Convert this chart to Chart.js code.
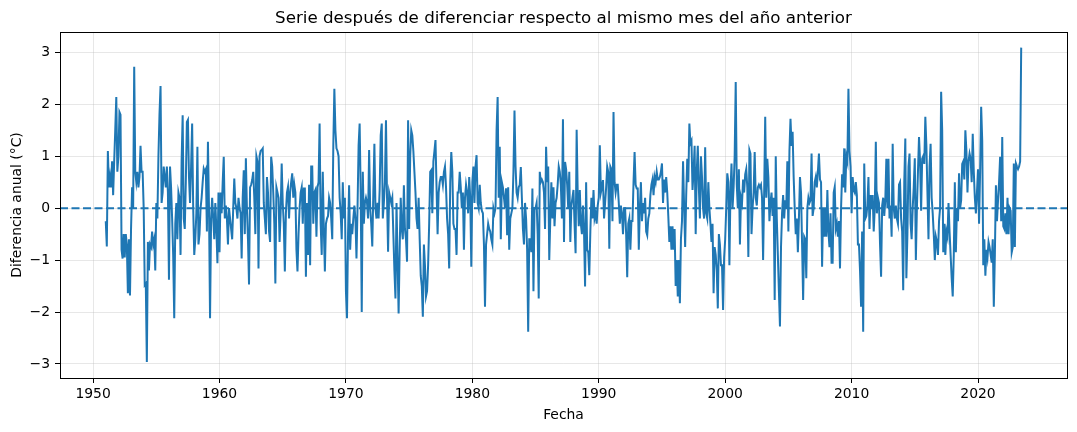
<!DOCTYPE html>
<html>
<head>
<meta charset="utf-8">
<script src="https://cdn.jsdelivr.net/npm/chart.js@4.4.1/dist/chart.umd.min.js"></script>
<style>
  html, body { margin: 0; padding: 0; background: #fff; }
  #wrap { width: 1077px; height: 432px; }
</style>
</head>
<body>
<div id="wrap"><canvas id="chart" width="1077" height="432"></canvas></div>
<script>
// monthly series, first value = Jan 1951, one row per year
const START_YEAR = 1951;
const diffValues = [
  -0.25, -0.74, 1.1, 0.4, 0.6, 0.4, 0.9, 0.25, 0.9, 1.5, 2.14, 0.7,
  1.0, 1.85, 1.8, -0.8, -0.97, -0.5, -0.95, -0.5, -0.7, -1.64, -0.6, -1.68,
  -0.4, 0.4, 0.0, 2.72, 0.7, 0.5, 0.7, 0.4, 0.6, 1.2, 0.7, 0.7,
  0.0, -1.48, -1.45, -2.96, -0.65, -1.2, -0.7, -0.75, -0.45, -0.7, -0.6, -1.2,
  0.1, -0.2, 1.0, 1.8, 2.35, 0.1, 0.3, 0.8, 0.6, 0.4, 0.8, 0.3,
  -1.38, 0.8, 0.4, -0.2, -0.9, -2.12, -0.3, 0.1, -0.6, 0.3, 0.2, -0.9,
  0.9, 1.79, -0.2, -0.4, 0.5, 1.66, 1.7, 0.6, 0.1, 0.8, 1.63, 0.0,
  -0.9, -0.6, -0.1, 1.18, -0.7, -0.5, 0.0, 0.2, 0.5, 0.76, 0.7, 0.75,
  -0.45, 1.28, 0.0, -2.12, -0.2, 0.2, -0.2, -0.6, 0.1, -0.4, -1.06, 0.3,
  -0.85, 0.3, -0.1, 0.5, 0.99, -0.2, 0.05, -0.2, -0.7, 0.0, -0.2, -0.4,
  -0.6, 0.0, 0.57, 0.1, 0.0, -0.2, 0.2, 0.0, -0.1, -0.97, 0.2, 0.73,
  -0.5, 0.96, 0.0, -0.6, -1.47, 0.4, 0.45, 0.54, 0.7, 0.2, -0.5, 1.0,
  0.9, -1.16, 1.0, 1.1, 1.12, 1.15, 0.1, -0.2, -0.5, 0.6, 0.3, -0.45,
  -0.65, 0.99, 0.8, 0.3, -0.3, -1.45, 0.4, 0.3, 0.2, -0.65, -0.1, 0.86,
  0.1, -0.3, -1.22, -0.1, 0.3, 0.41, -0.2, 0.3, 0.5, 0.67, 0.2, 0.45,
  0.3, -0.8, -1.22, -0.5, 0.0, 0.3, 0.4, -0.3, 0.38, 0.38, -1.32, 0.1,
  -0.9, 0.45, -1.1, 0.8, 0.8, -0.3, 0.3, 0.35, -0.55, 0.4, 0.5, 1.63,
  -0.3, -0.9, 0.7, -0.4, -1.22, -0.3, -0.2, -0.15, 0.2, 0.1, -0.2, -0.6,
  1.2, 2.3, 1.5, 1.15, 1.1, 1.0, 0.2, -0.1, -0.6, 0.5, -0.2, 0.2,
  -1.6, -2.12, -0.5, 0.44, -0.8, -0.3, -0.5, -0.2, 0.05, -0.2, -0.97, 0.0,
  1.2, 1.63, 0.3, -2.0, 0.7, -0.3, 0.1, 0.2, 0.1, -0.2, 1.12, 0.0,
  -0.3, -0.74, 0.3, 1.24, 0.0, -0.2, 0.1, -0.2, 0.35, 1.4, 1.63, -0.2,
  0.1, 0.5, 1.69, 0.2, -0.84, 0.3, 0.2, 0.1, 0.2, -0.5, -1.2, -1.74,
  0.1, -1.0, -2.03, -0.8, 0.2, -0.4, -0.6, 0.44, -0.4, -0.6, -1.03, 1.69,
  -0.4, 1.0, 1.5, 1.4, 1.1, 0.7, 0.3, -0.2, -0.4, 0.2, -0.6, -1.3,
  -1.5, -2.09, -0.7, -1.1, -1.7, -1.6, -1.1, -0.3, 0.7, 0.73, -0.1, 0.9,
  1.1, 1.31, 0.4, -0.5, 0.3, 0.5, 0.6, 0.6, 0.45, 0.7, 0.8, 0.4,
  -0.2, -0.5, -1.16, 0.5, 1.08, 0.7, -0.3, -0.4, -0.4, -0.9, 0.3, 0.3,
  0.7, 0.4, 0.0, 0.3, -0.8, 0.2, 0.45, 0.3, -0.1, 0.6, 0.2, -1.13,
  0.5, 0.8, 0.1, 0.8, 1.02, 0.1, 0.0, 0.45, 0.1, -0.05, -0.1, -0.7,
  -1.9, -0.7, -0.5, -0.3, -0.4, -0.45, -0.6, -0.7, 0.0, -0.1, 0.0, 1.5,
  2.14, 0.2, 1.18, -0.6, 0.5, 0.4, 0.2, 0.0, 0.38, -0.52, 0.4, -0.8,
  -0.2, -0.1, 0.0, 0.7, 1.88, 0.8, 0.3, 0.2, 0.4, 0.45, 0.79, 0.2,
  -0.4, -0.7, 0.1, -0.2, -0.8, -2.38, -0.6, -0.6, -0.85, 0.38, -1.6, 0.0,
  0.0, 0.1, -0.5, -1.74, 0.7, 0.5, 0.55, 0.5, 0.3, -0.4, 1.18, 0.5,
  0.8, -1.0, -0.2, 0.5, -0.2, 0.4, -0.35, 0.1, 0.2, 0.45, 0.8, 0.7,
  0.45, -0.2, 1.71, -0.65, 0.89, 0.75, 0.45, 0.0, 0.7, -0.65, 0.05, 0.2,
  0.35, -0.3, -0.87, 1.51, 0.3, -0.35, 0.35, -0.3, -0.5, 0.05, -0.45, -1.51,
  0.5, -0.8, -0.85, -1.29, -0.45, 0.2, -0.2, 0.35, -0.2, -0.1, -0.3, 0.05,
  0.2, 1.21, 0.3, 0.4, 0.54, -0.2, 0.1, 0.4, 0.8, 0.7, -0.78, 0.8,
  0.75, -0.25, 1.85, 0.5, 0.3, 0.45, 0.45, 0.1, -0.3, 0.05, -0.1, -0.5,
  0.0, 0.0, -0.5, -1.33, -0.3, -0.2, -0.8, -0.25, -0.25, 0.5, 1.08, 0.45,
  0.38, 0.38, -0.8, 0.0, 0.5, -0.25, 0.1, -0.1, 0.2, -0.45, -0.52, -0.2,
  -0.1, 0.25, 0.45, 0.55, 0.25, 0.6, 0.5, 0.7, 0.55, 0.55, 0.6, 0.7,
  0.86, 0.1, 0.55, 0.3, 0.6, 0.3, -0.15, -0.65, -0.35, -0.8, -0.35, -0.8,
  -0.4, -1.5, -1.0, -1.7, -1.0, -1.83, -0.6, -0.25, 0.9, 0.05, -0.75, 0.25,
  0.95, 0.5, 1.63, 1.25, 1.3, 0.35, 0.7, 1.2, -0.5, 0.7, 1.2, 0.4,
  -0.2, 1.0, 0.6, 0.0, -0.2, 1.17, -0.1, -0.2, 0.5, 0.0, -0.3, -0.65,
  -0.3, -1.64, -0.75, -0.9, -1.2, -1.93, -0.5, -0.7, -1.1, -1.1, -1.96, -0.95,
  -0.6, 0.0, 0.67, 0.5, -1.1, 0.3, 0.86, 0.0, 0.4, 1.0, 2.43, 0.45,
  0.0, 0.75, -0.7, 0.2, 0.1, 0.55, 0.3, 0.65, 0.75, 0.4, -0.94, 1.12,
  1.05, -0.5, 0.0, 0.3, 1.08, 0.2, 0.05, 0.4, 0.45, 0.4, 0.45, 0.2,
  -1.0, 0.3, 1.76, 0.2, 0.95, 0.6, -0.25, 0.1, 0.3, -0.15, 0.2, -1.77,
  1.0, -0.2, -0.9, -1.6, -2.28, -0.75, -0.1, 0.25, -0.2, 0.15, 0.0, 0.9,
  -0.45, 1.1, 1.72, 1.2, 1.47, 0.6, 0.0, -0.5, -0.2, -0.85, -0.2, 0.6,
  0.3, -0.7, -1.77, -0.55, -0.6, -1.35, 0.0, 0.2, 0.1, 0.15, 1.05, -0.15,
  0.0, 0.5, 0.6, 0.4, 0.7, 1.05, 0.55, 0.5, -1.13, 0.0, -0.55, 0.0,
  -0.55, 0.35, -0.45, -0.75, -0.1, -1.05, -1.05, 0.3, 0.41, -0.4, -0.3, -0.55,
  -0.25, -1.16, 0.0, 0.65, 0.4, 1.15, 0.3, 1.0, 0.9, 2.3, 1.1, 0.8,
  -0.1, 0.6, 0.35, 0.3, 0.5, 0.25, -0.7, -0.7, -1.2, -1.9, -0.45, -2.38,
  0.86, -0.2, -0.15, 0.05, 0.6, -0.4, 0.25, 0.0, 0.25, -0.45, 0.0, 1.28,
  -0.1, 0.2, 0.1, -0.7, -1.32, 0.05, 0.2, -0.15, 0.15, 0.95, 0.0, 0.95,
  -0.2, 0.05, -0.55, 1.24, 0.0, -0.2, 0.05, -0.2, -0.3, 0.45, 0.5, -0.2,
  -0.45, -1.58, 0.5, 1.34, -1.35, -0.5, 0.8, 1.05, -0.3, -0.6, 0.0, 0.4,
  0.96, -1.0, 0.0, 0.7, 1.37, 0.9, -0.05, 0.95, 1.0, 0.85, 1.76, 1.2,
  0.3, -0.6, 0.8, 1.24, 0.2, -0.1, -0.5, -1.0, -0.55, -0.65, -0.9, -0.25,
  0.0, 2.24, 1.5, -0.85, -0.3, -0.9, -0.45, -0.55, 0.1, -0.45, -0.9, -1.35,
  -1.7, -0.9, 0.5, -0.85, 0.0, -0.25, 0.67, 0.0, 0.15, 0.85, 0.9, 0.55,
  1.5, 1.1, 0.3, 0.9, 1.05, 0.95, 0.5, 1.43, 0.7, 0.2, -0.1, 0.3,
  0.75, -0.3, 0.7, 1.95, 1.3, -1.1, -0.6, -1.3, -0.8, -0.95, -0.65, -0.75,
  -0.9, -1.05, -0.6, -1.9, -0.9, 0.44, -0.25, 0.15, 0.5, 0.99, -0.25, 1.37,
  -0.35, -0.4, -0.1, -0.5, 0.2, -0.5, 0.0, -0.05, -0.85, -0.75, 0.86, -0.75,
  0.86, 0.8, 0.75, 0.8, 0.9, 3.09
];
const xTickYears = [1950, 1960, 1970, 1980, 1990, 2000, 2010, 2020];
const yTickValues = [-3, -2, -1, 0, 1, 2, 3];
const xLimits = [1947.38, 2027.04];
const yLimits = [-3.27, 3.39];

const BLUE = '#1f77b4';
const GRID = 'rgba(176,176,176,0.3)';
const FAMILY = "'DejaVu Sans', sans-serif";

const seriesPoints = diffValues.map((v, i) => ({ x: START_YEAR + i / 12, y: v }));
const zeroLine = [{ x: xLimits[0], y: 0 }, { x: xLimits[1], y: 0 }];

function minusSign(v) {
  return v < 0 ? '\u2212' + Math.abs(v) : String(v);
}

// matplotlib style box around the axes
const axesFrame = {
  id: 'axesFrame',
  afterDraw(chart) {
    const { ctx, chartArea: a } = chart;
    ctx.save();
    ctx.strokeStyle = '#000';
    ctx.lineWidth = 1;
    ctx.strokeRect(Math.round(a.left) + 0.5, Math.round(a.top) + 0.5,
      Math.round(a.right - a.left), Math.round(a.bottom - a.top));
    ctx.restore();
  }
};

new Chart(document.getElementById('chart'), {
  type: 'line',
  data: {
    datasets: [
      {
        data: seriesPoints,
        borderColor: BLUE,
        borderWidth: 2,
        pointRadius: 0,
        tension: 0,
        fill: false,
        order: 1,
      },
      {
        data: zeroLine,
        borderColor: BLUE,
        borderWidth: 2,
        borderDash: [8, 3.5],
        pointRadius: 0,
        fill: false,
        order: 0,
      },
    ],
  },
  options: {
    responsive: false,
    animation: false,
    devicePixelRatio: 1,
    layout: { padding: { left: 0, right: 10, top: 0, bottom: 0 } },
    plugins: {
      legend: { display: false },
      tooltip: { enabled: false },
      title: {
        display: true,
        fullSize: false,
        text: 'Serie después de diferenciar respecto al mismo mes del año anterior',
        color: '#000',
        font: { family: FAMILY, size: 16.7, weight: 'normal' },
        padding: { top: 9, bottom: 3 },
      },
    },
    scales: {
      x: {
        type: 'linear',
        min: xLimits[0],
        max: xLimits[1],
        afterBuildTicks: (s) => { s.ticks = xTickYears.map((v) => ({ value: v })); },
        afterFit: (s) => { s.height = 54; },
        grid: { color: GRID, lineWidth: 1, drawTicks: true, tickLength: 5, tickColor: '#000' },
        border: { display: false },
        ticks: {
          color: '#000',
          padding: 3,
          maxRotation: 0,
          font: { family: FAMILY, size: 13.9 },
          callback: (v) => String(v),
        },
        title: {
          display: true,
          text: 'Fecha',
          color: '#000',
          font: { family: FAMILY, size: 13.9 },
          padding: { top: 0, bottom: 8 },
        },
      },
      y: {
        type: 'linear',
        min: yLimits[0],
        max: yLimits[1],
        afterBuildTicks: (s) => { s.ticks = yTickValues.map((v) => ({ value: v })); },
        afterFit: (s) => { s.width = 60; },
        grid: { color: GRID, lineWidth: 1, drawTicks: true, tickLength: 5, tickColor: '#000' },
        border: { display: false },
        ticks: {
          color: '#000',
          padding: 5,
          font: { family: FAMILY, size: 13.9 },
          callback: (v) => minusSign(v),
        },
        title: {
          display: true,
          text: 'Diferencia anual (°C)',
          color: '#000',
          font: { family: FAMILY, size: 13.9 },
          padding: { top: 9, bottom: 0 },
        },
      },
    },
  },
  plugins: [axesFrame],
});
</script>
</body>
</html>
